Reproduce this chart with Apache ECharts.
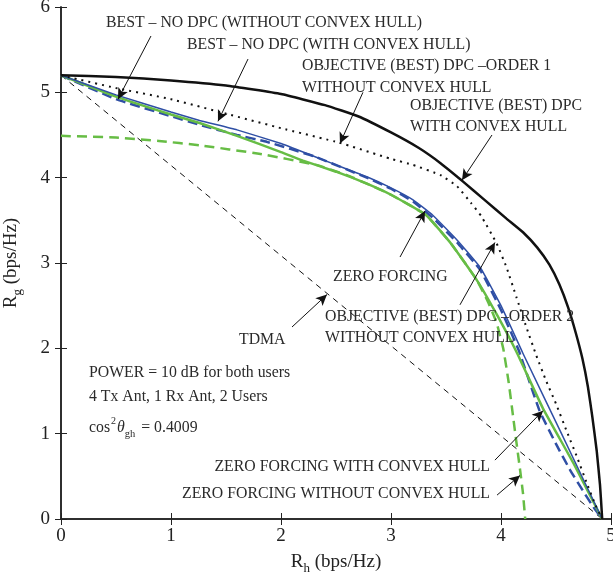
<!DOCTYPE html>
<html>
<head>
<meta charset="utf-8">
<script src="https://cdn.jsdelivr.net/npm/echarts@6/dist/echarts.min.js"></script>
<style>
  html, body { margin: 0; padding: 0; background: #fff; }
  #main { width: 613px; height: 583px; }
</style>
</head>
<body>
<div id="main"></div>
<script>
  // axis ranges
  var xRange = [0, 5];
  var yRange = [0, 6];

  // curves, [Rh, Rg]
  var dpcHull = [[0,5.2],[0.5,5.18],[1,5.14],[1.5,5.08],[2,4.98],[2.4,4.85],[2.7,4.72],[3,4.53],[3.25,4.35],[3.45,4.17],[3.65,3.96],[3.85,3.74],[4.05,3.52],[4.2,3.36],[4.33,3.18],[4.44,2.98],[4.53,2.75],[4.61,2.48],[4.68,2.18],[4.74,1.88],[4.79,1.55],[4.83,1.2],[4.87,0.8],[4.9,0.4],[4.92,0]];
  var dpcNoHull = [[0,5.2],[0.5,5.05],[1,4.92],[1.5,4.75],[2,4.58],[2.53,4.41],[3,4.22],[3.2,4.15],[3.45,4.03],[3.6,3.9],[3.73,3.7],[3.82,3.55],[3.96,3.23],[4.05,2.95],[4.14,2.6],[4.23,2.25],[4.32,1.92],[4.41,1.62],[4.5,1.35],[4.6,1.02],[4.69,0.73],[4.78,0.42],[4.86,0.16],[4.92,0]];
  var noDpcHull = [[0,5.2],[0.5,4.97],[1,4.77],[1.26,4.67],[1.6,4.56],[2,4.4],[2.2,4.3],[2.5,4.15],[2.78,4.01],[3,3.88],[3.2,3.74],[3.38,3.56],[3.6,3.27],[3.81,2.95],[4,2.5],[4.2,1.94],[4.55,1.0],[4.92,0]];
  var noDpcNoHull = [[0,5.2],[0.5,4.92],[1,4.72],[1.26,4.62],[1.6,4.5],[1.87,4.42],[2.3,4.25],[2.78,4.0],[3,3.87],[3.2,3.72],[3.38,3.53],[3.6,3.24],[3.81,2.92],[4,2.45],[4.16,1.98],[4.35,1.27],[4.5,0.88],[4.63,0.57],[4.75,0.32],[4.84,0.14],[4.92,0]];
  var zfHull = [[0,5.2],[0.5,4.95],[1,4.74],[1.26,4.64],[1.6,4.49],[2,4.3],[2.2,4.2],[2.5,4.07],[2.78,3.93],[3,3.8],[3.32,3.56],[3.55,3.22],[3.78,2.8],[3.96,2.4],[4.14,1.96],[4.38,1.3],[4.66,0.65],[4.92,0]];
  var zfNoHull = [[0,4.49],[0.5,4.47],[0.89,4.43],[1.26,4.38],[1.8,4.28],[2.32,4.15],[2.6,4.03],[2.78,3.93],[3,3.8],[3.32,3.56],[3.55,3.22],[3.78,2.8],[3.88,2.55],[3.96,2.3],[4.02,2.0],[4.07,1.6],[4.11,1.2],[4.14,0.9],[4.17,0.61],[4.2,0.3],[4.22,0]];
  var tdma = [[0,5.2],[4.92,0]];

  // annotation arrows, tail -> head, in data units
  var arrows = [
    [[0.818,5.66],[0.518,4.92]],
    [[1.70,5.39],[1.427,4.66]],
    [[2.745,5.0],[2.536,4.40]],
    [[3.918,4.50],[3.645,3.97]],
    [[3.082,3.07],[3.309,3.61]],
    [[3.627,2.51],[3.945,3.24]],
    [[2.10,2.25],[2.418,2.63]],
    [[3.945,0.69],[4.382,1.27]],
    [[3.964,0.28],[4.173,0.51]]
  ];

  var GREEN = '#67bd45';
  var BLUE = '#2f4fa5';
  var FONT = '"Liberation Serif", "DejaVu Serif", serif';

  var chart = echarts.init(document.getElementById('main'));

  function curve(name, data, color, width, type) {
    return {
      name: name,
      type: 'line',
      data: data,
      showSymbol: false,
      smooth: 0.12,
      lineStyle: { color: color, width: width, type: type },
      z: 3
    };
  }

  var sub = { fontSize: 13, lineHeight: 20, padding: [9, 0, 0, 0], verticalAlign: 'top', fontFamily: FONT, color: '#222' };
  var main = { fontSize: 19, lineHeight: 20, padding: [0, 0, 9, 0], verticalAlign: 'top', fontFamily: FONT, color: '#222' };

  function txt(s, x, y, align) {
    return {
      type: 'text', x: x, y: y, silent: true, z: 10,
      style: { text: s, font: '15.8px ' + FONT, fill: '#2a2a2a', align: align || 'left', verticalAlign: 'middle' }
    };
  }

  var option = {
    animation: false,
    backgroundColor: '#fff',
    grid: { left: 61, right: 2, top: 7, bottom: 64, containLabel: false, outerBoundsMode: 'none' },
    xAxis: [{
      type: 'value', min: xRange[0], max: xRange[1], interval: 1,
      name: '{a|R}{b|h}{a| (bps/Hz)}', nameLocation: 'middle', nameGap: 34,
      nameTextStyle: { rich: { a: main, b: sub } },
      axisLine: { lineStyle: { color: '#222', width: 1.5 } },
      axisTick: { inside: true, length: 6, lineStyle: { color: '#222' } },
      axisLabel: { fontSize: 19, fontFamily: FONT, color: '#222', margin: 8 },
      splitLine: { show: false }
    }, {
      type: 'value', position: 'top', min: xRange[0], max: xRange[1], interval: 1,
      axisLine: { lineStyle: { color: '#222', width: 1.5 } },
      axisTick: { inside: true, length: 6, lineStyle: { color: '#222' } },
      axisLabel: { show: false }, splitLine: { show: false }
    }],
    yAxis: [{
      type: 'value', min: yRange[0], max: yRange[1], interval: 1,
      name: '{a|R}{b|g}{a| (bps/Hz)}', nameLocation: 'middle', nameGap: 28,
      nameTextStyle: { rich: { a: main, b: sub } },
      axisLine: { lineStyle: { color: '#222', width: 1.5 } },
      axisTick: { inside: true, length: 6, lineStyle: { color: '#222' } },
      axisLabel: { fontSize: 19, fontFamily: FONT, color: '#222', margin: 11 },
      splitLine: { show: false }
    }, {
      type: 'value', position: 'right', min: yRange[0], max: yRange[1], interval: 1,
      axisLine: { lineStyle: { color: '#222', width: 1.5 } },
      axisTick: { inside: true, length: 6, lineStyle: { color: '#222' } },
      axisLabel: { show: false }, splitLine: { show: false }
    }],
    series: [
      { name: 'TDMA', type: 'line', data: tdma, showSymbol: false, lineStyle: { color: '#111', width: 1, type: [6, 5] } },
      curve('ZF without hull', zfNoHull, GREEN, 2.5, [10, 6]),
      curve('No DPC without hull', noDpcNoHull, BLUE, 2.5, [10, 5]),
      curve('ZF with hull', zfHull, GREEN, 2.5, 'solid'),
      curve('No DPC with hull', noDpcHull, BLUE, 1.5, 'solid'),
      curve('DPC without hull', dpcNoHull, '#111', 2, [2, 5]),
      curve('DPC with hull', dpcHull, '#111', 2.5, 'solid'),
      {
        name: 'arrows', type: 'line', data: [], silent: true,
        markLine: {
          silent: true, symbol: ['none', 'arrow'], symbolSize: [8, 11],
          label: { show: false },
          lineStyle: { color: '#111', width: 1, type: 'solid' },
          emphasis: { disabled: true },
          data: arrows.map(function (a) { return [{ coord: a[0] }, { coord: a[1] }]; })
        }
      }
    ],
    graphic: [
      txt('BEST \u2013 NO DPC (WITHOUT CONVEX HULL)', 106, 23),
      txt('BEST \u2013 NO DPC (WITH CONVEX HULL)', 187, 45),
      txt('OBJECTIVE (BEST) DPC \u2013ORDER 1', 302, 66),
      txt('WITHOUT CONVEX HULL', 302, 88),
      txt('OBJECTIVE (BEST) DPC', 410, 106),
      txt('WITH CONVEX HULL', 410, 127),
      txt('ZERO FORCING', 333, 277),
      txt('OBJECTIVE (BEST) DPC \u2013ORDER 2', 325, 317),
      txt('WITHOUT CONVEX HULL', 325, 338),
      txt('TDMA', 239, 340),
      txt('POWER = 10 dB for both users', 89, 373),
      txt('4 Tx Ant, 1 Rx Ant, 2 Users', 89, 397),
      {
        type: 'text', x: 89, y: 423, silent: true, z: 10,
        style: {
          text: '{m|cos}{p|2}{t|\u03b8}{s|gh}{m| = 0.4009}',
          align: 'left', verticalAlign: 'middle',
          rich: {
            m: { font: '15.8px ' + FONT, fill: '#2a2a2a', lineHeight: 18, padding: [6, 0, 6, 0], verticalAlign: 'top' },
            p: { font: '10px ' + FONT, fill: '#2a2a2a', lineHeight: 12, padding: [2, 1, 0, 1], verticalAlign: 'top' },
            t: { font: 'italic 15.8px ' + FONT, fill: '#2a2a2a', lineHeight: 18, padding: [6, 0, 6, 0], verticalAlign: 'top' },
            s: { font: '10.5px ' + FONT, fill: '#2a2a2a', lineHeight: 12, padding: [15, 2, 0, 0], verticalAlign: 'top' }
          }
        }
      },
      txt('ZERO FORCING WITH CONVEX HULL', 490, 467, 'right'),
      txt('ZERO FORCING WITHOUT CONVEX HULL', 490, 494, 'right')
    ]
  };

  chart.setOption(option);
</script>
</body>
</html>
